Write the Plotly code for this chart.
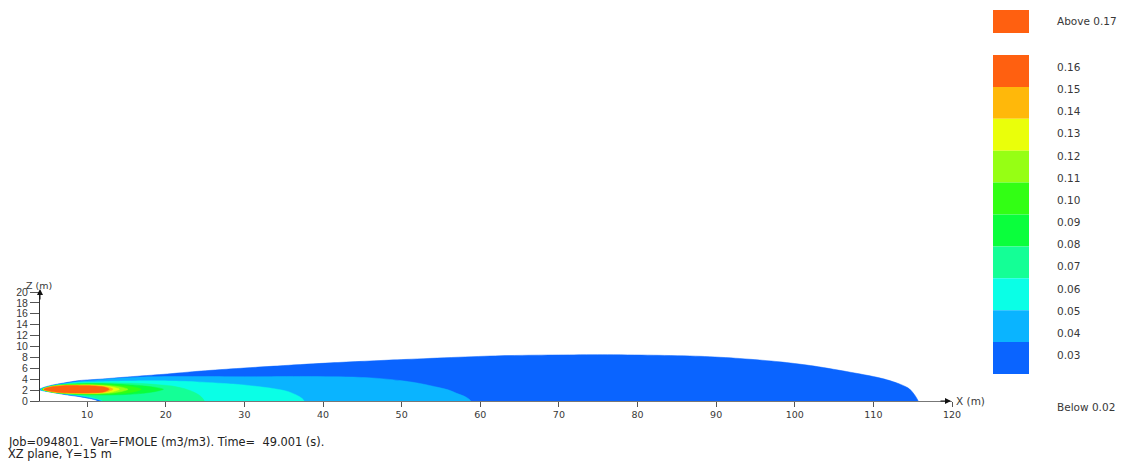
import plotly.graph_objects as go

# ---------------- data ----------------
X_TICKS = [10, 20, 30, 40, 50, 60, 70, 80, 90, 100, 110, 120]
Z_TICKS = [0, 2, 4, 6, 8, 10, 12, 14, 16, 18, 20]

LEGEND_LABELS = ["0.16", "0.15", "0.14", "0.13", "0.12", "0.11", "0.10",
                 "0.09", "0.08", "0.07", "0.06", "0.05", "0.04", "0.03"]
LEGEND_COLORS = ["#FF6010", "#FFB80A", "#EAFF0A", "#96FF14", "#32FF14",
                 "#0AFF3C", "#14FF96", "#0AFFE6", "#0AB4FF", "#0A64FF"]
ABOVE_LABEL = "Above 0.17"
ABOVE_COLOR = "#FF6010"
BELOW_LABEL = "Below 0.02"

INFO_LINE_1 = "Job=094801.\u00a0\u00a0Var=FMOLE (m3/m3). Time=\u00a0\u00a049.001 (s)."
INFO_LINE_2 = "XZ plane, Y=15 m"

# contour 0.03 (outer, reaches ground)
C03_TOP_X = [3.95, 4.6, 5.5, 7.0, 9.0, 12.0, 15.5, 19.7, 24.5, 29.5, 35.0, 41.0, 50.0,
             62.5, 70.0, 75.5, 82.0, 88.0, 93.0, 98.0, 102.0, 106.6, 110.9, 113.0, 114.6, 115.7]
C03_TOP_Z = [2.15, 2.55, 2.9, 3.3, 3.75, 4.05, 4.45, 4.9, 5.5, 6.0, 6.5, 7.0, 7.6,
             8.3, 8.45, 8.5, 8.4, 8.2, 7.8, 7.2, 6.5, 5.4, 4.2, 3.3, 2.2, 0.0]
C03_BOT_X = [3.95, 5.5, 7.5, 9.0, 10.3, 11.3]
C03_BOT_Z = [2.05, 1.6, 1.1, 0.8, 0.45, 0.0]

# contour 0.04
C04_TOP_X = [4.05, 5.5, 7.0, 9.0, 12.0, 15.0, 18.0, 25.0, 30.0, 37.0, 43.5, 47.0,
             49.8, 52.0, 54.0, 56.0, 57.0, 58.2, 58.8]
C04_TOP_Z = [2.15, 2.8, 3.2, 3.6, 3.95, 4.25, 4.45, 4.5, 4.45, 4.5, 4.4, 4.15,
             3.75, 3.3, 2.7, 2.0, 1.4, 0.7, 0.0]
C04_BOT_X = [4.05, 5.5, 7.5, 9.0, 10.5, 11.7]
C04_BOT_Z = [2.07, 1.65, 1.2, 0.9, 0.5, 0.0]

# contour 0.05
C05_TOP_X = [4.12, 5.5, 7.0, 9.0, 12.0, 15.0, 18.0, 21.0, 24.0, 27.0, 29.5, 32.0,
             34.0, 35.5, 36.6, 37.3, 37.6]
C05_TOP_Z = [2.15, 2.75, 3.1, 3.45, 3.55, 3.65, 3.7, 3.65, 3.5, 3.25, 3.0, 2.6,
             2.2, 1.75, 1.1, 0.5, 0.0]
C05_BOT_X = [4.12, 5.5, 7.5, 9.0, 10.7, 11.85]
C05_BOT_Z = [2.08, 1.68, 1.27, 1.0, 0.55, 0.0]

# contour 0.07
C07_TOP_X = [4.2, 5.5, 7.0, 9.0, 12.0, 15.0, 17.0, 19.0, 20.8, 22.5, 23.6, 24.4, 24.9]
C07_TOP_Z = [2.15, 2.7, 3.05, 3.3, 3.35, 3.3, 3.2, 3.0, 2.75, 2.2, 1.6, 0.9, 0.0]
C07_BOT_X = [4.2, 5.5, 7.5, 9.0, 10.8, 12.0]
C07_BOT_Z = [2.09, 1.7, 1.33, 1.1, 0.65, 0.0]

# contour 0.09 (closed)
C09_TOP_X = [4.27, 5.5, 7.0, 9.0, 11.0, 13.0, 15.0, 17.0, 18.7, 19.7]
C09_TOP_Z = [2.2, 2.75, 3.0, 3.15, 3.2, 3.15, 3.0, 2.8, 2.5, 2.15]
C09_BOT_X = [4.27, 5.5, 7.0, 9.0, 11.0, 13.0, 15.0, 17.0, 18.7]
C09_BOT_Z = [2.1, 1.6, 1.35, 1.2, 1.1, 1.1, 1.2, 1.4, 1.75]

# contour 0.10 (closed)
C10_TOP_X = [4.33, 5.5, 7.0, 9.0, 11.0, 13.0, 15.0, 16.3, 16.9]
C10_TOP_Z = [2.2, 2.7, 2.95, 3.05, 3.08, 2.98, 2.75, 2.45, 2.15]
C10_BOT_X = [4.33, 5.5, 7.0, 9.0, 11.0, 13.0, 15.0, 16.3]
C10_BOT_Z = [2.1, 1.65, 1.42, 1.28, 1.22, 1.25, 1.45, 1.8]

# contour 0.12 (closed)
C12_TOP_X = [4.38, 5.5, 7.0, 9.0, 11.0, 13.0, 14.5, 15.2]
C12_TOP_Z = [2.2, 2.68, 2.9, 2.95, 2.95, 2.8, 2.5, 2.15]
C12_BOT_X = [4.38, 5.5, 7.0, 9.0, 11.0, 13.0, 14.5]
C12_BOT_Z = [2.1, 1.68, 1.45, 1.35, 1.32, 1.45, 1.78]

# contour 0.13 (closed)
C13_TOP_X = [4.42, 5.5, 7.0, 9.0, 11.0, 13.0, 14.1]
C13_TOP_Z = [2.2, 2.65, 2.86, 2.9, 2.88, 2.6, 2.15]
C13_BOT_X = [4.42, 5.5, 7.0, 9.0, 11.0, 13.0]
C13_BOT_Z = [2.1, 1.7, 1.48, 1.4, 1.4, 1.65]

# contour 0.15 (closed)
C15_TOP_X = [4.46, 5.5, 7.0, 9.0, 11.0, 12.6, 13.3]
C15_TOP_Z = [2.2, 2.62, 2.83, 2.86, 2.82, 2.55, 2.15]
C15_BOT_X = [4.46, 5.5, 7.0, 9.0, 11.0, 12.6]
C15_BOT_Z = [2.1, 1.72, 1.5, 1.44, 1.46, 1.72]

# contour 0.16 (closed)
C16_TOP_X = [4.5, 5.5, 7.0, 9.0, 11.0, 12.2, 12.8]
C16_TOP_Z = [2.2, 2.6, 2.8, 2.82, 2.76, 2.55, 2.15]
C16_BOT_X = [4.5, 5.5, 7.0, 9.0, 11.0, 12.2]
C16_BOT_Z = [2.1, 1.74, 1.52, 1.48, 1.52, 1.72]

CONTOURS = [
    (C03_TOP_X, C03_TOP_Z, C03_BOT_X, C03_BOT_Z, "#0A64FF"),
    (C04_TOP_X, C04_TOP_Z, C04_BOT_X, C04_BOT_Z, "#0AB4FF"),
    (C05_TOP_X, C05_TOP_Z, C05_BOT_X, C05_BOT_Z, "#0AFFE6"),
    (C07_TOP_X, C07_TOP_Z, C07_BOT_X, C07_BOT_Z, "#14FF96"),
    (C09_TOP_X, C09_TOP_Z, C09_BOT_X, C09_BOT_Z, "#0AFF3C"),
    (C10_TOP_X, C10_TOP_Z, C10_BOT_X, C10_BOT_Z, "#32FF14"),
    (C12_TOP_X, C12_TOP_Z, C12_BOT_X, C12_BOT_Z, "#96FF14"),
    (C13_TOP_X, C13_TOP_Z, C13_BOT_X, C13_BOT_Z, "#EAFF0A"),
    (C15_TOP_X, C15_TOP_Z, C15_BOT_X, C15_BOT_Z, "#FFB80A"),
    (C16_TOP_X, C16_TOP_Z, C16_BOT_X, C16_BOT_Z, "#FF6010"),
]

# ---------------- layout constants ----------------
W, H = 1121, 463
ML, MR, MT, MB = 40, 169, 292, 62
PW = W - ML - MR
PH = H - MT - MB
FONT = "Liberation Sans, Arial, sans-serif"
WIDE = "DejaVu Sans, Verdana, sans-serif"
TXT = "#383838"


def xp(px):
    return (px - ML) / PW


def yp(py):
    return (H - MB - py) / PH


fig = go.Figure()

for tx, tz, bx, bz, col in CONTOURS:
    xs = list(tx)
    zs = list(tz)
    bxr = list(bx)[::-1]
    bzr = list(bz)[::-1]
    if tz[-1] == 0:
        # continue below ground (clipped) so the ground edge is straight
        xs += [tx[-1] + 0.1, bx[-1] + 0.1]
        zs += [-1.5, -1.5]
    xs += bxr
    zs += bzr
    xs.append(xs[0])
    zs.append(zs[0])
    fig.add_trace(go.Scatter(
        x=xs, y=zs, mode="lines", fill="toself", fillcolor=col,
        line=dict(color=col, width=0.5, shape="spline", smoothing=0.8),
        hoverinfo="skip", showlegend=False))

fig.update_xaxes(
    range=[4, 120], tickvals=X_TICKS, ticktext=[str(v) for v in X_TICKS],
    showgrid=False, zeroline=False, showline=True, linecolor="#777777", linewidth=1,
    ticks="outside", ticklen=5, tickcolor="#555555", tickwidth=1,
    tickfont=dict(family=WIDE, size=9.5, color=TXT), automargin=False, fixedrange=True)
fig.update_yaxes(
    range=[0, 20], tickvals=Z_TICKS, ticktext=[str(v) for v in Z_TICKS],
    showgrid=False, zeroline=False, showline=True, linecolor="#333333", linewidth=1,
    ticks="outside", ticklen=9, tickcolor="#555555", tickwidth=1,
    tickfont=dict(family=FONT, size=10.5, color=TXT), automargin=False, fixedrange=True)

annotations = []
shapes = []

# axis arrows
annotations.append(dict(xref="paper", yref="paper", x=xp(951), y=0, ax=-12, ay=0,
                        text="", showarrow=True, arrowhead=2, arrowsize=1.2,
                        arrowwidth=1, arrowcolor="#111111"))
annotations.append(dict(xref="paper", yref="paper", x=0, y=yp(289), ax=0, ay=12,
                        text="", showarrow=True, arrowhead=2, arrowsize=1.2,
                        arrowwidth=1, arrowcolor="#111111"))
annotations.append(dict(xref="paper", yref="paper", x=xp(954), y=yp(401),
                        xanchor="left", yanchor="middle", showarrow=False,
                        text="X (m)", font=dict(family=WIDE, size=10.5, color=TXT)))
annotations.append(dict(xref="paper", yref="paper", x=xp(24), y=yp(285),
                        xanchor="left", yanchor="middle", showarrow=False,
                        text="Z (m)", font=dict(family=WIDE, size=9.5, color=TXT)))

# info text
annotations.append(dict(xref="paper", yref="paper", x=xp(6), y=yp(442),
                        xanchor="left", yanchor="middle", showarrow=False,
                        text=INFO_LINE_1, font=dict(family=WIDE, size=11.4, color="#222222")))
annotations.append(dict(xref="paper", yref="paper", x=xp(6), y=yp(454),
                        xanchor="left", yanchor="middle", showarrow=False,
                        text=INFO_LINE_2, font=dict(family=WIDE, size=11.4, color="#222222")))

# legend
BX0, BX1 = 993, 1029
LX = 1055
shapes.append(dict(type="rect", xref="paper", yref="paper",
                   x0=xp(BX0), x1=xp(BX1), y0=yp(33), y1=yp(10),
                   fillcolor=ABOVE_COLOR, line=dict(width=0)))
annotations.append(dict(xref="paper", yref="paper", x=xp(LX), y=yp(21),
                        xanchor="left", yanchor="middle", showarrow=False,
                        text=ABOVE_LABEL, font=dict(family=WIDE, size=10.5, color=TXT)))
seg_top, seg_bot = 55.0, 374.0
seg_h = (seg_bot - seg_top) / len(LEGEND_COLORS)
for i, col in enumerate(LEGEND_COLORS):
    shapes.append(dict(type="rect", xref="paper", yref="paper",
                       x0=xp(BX0), x1=xp(BX1),
                       y0=yp(seg_top + (i + 1) * seg_h), y1=yp(seg_top + i * seg_h),
                       fillcolor=col, line=dict(width=0)))
lab_top, lab_bot = 67.0, 355.0
lab_step = (lab_bot - lab_top) / (len(LEGEND_LABELS) - 1)
for i, lab in enumerate(LEGEND_LABELS):
    annotations.append(dict(xref="paper", yref="paper", x=xp(LX), y=yp(lab_top + i * lab_step),
                            xanchor="left", yanchor="middle", showarrow=False,
                            text=lab, font=dict(family=WIDE, size=10.5, color=TXT)))
annotations.append(dict(xref="paper", yref="paper", x=xp(LX), y=yp(407),
                        xanchor="left", yanchor="middle", showarrow=False,
                        text=BELOW_LABEL, font=dict(family=WIDE, size=10.5, color=TXT)))

fig.update_layout(
    width=W, height=H,
    margin=dict(l=ML, r=MR, t=MT, b=MB, autoexpand=False),
    paper_bgcolor="white", plot_bgcolor="white",
    showlegend=False, annotations=annotations, shapes=shapes,
    font=dict(family=FONT, size=10, color=TXT),
)

fig.write_html(
    "out.html",
    config={"displayModeBar": False, "staticPlot": True},
    post_script="document.body.style.margin='0';document.body.style.padding='0';"
                "document.body.style.overflow='hidden';",
)
